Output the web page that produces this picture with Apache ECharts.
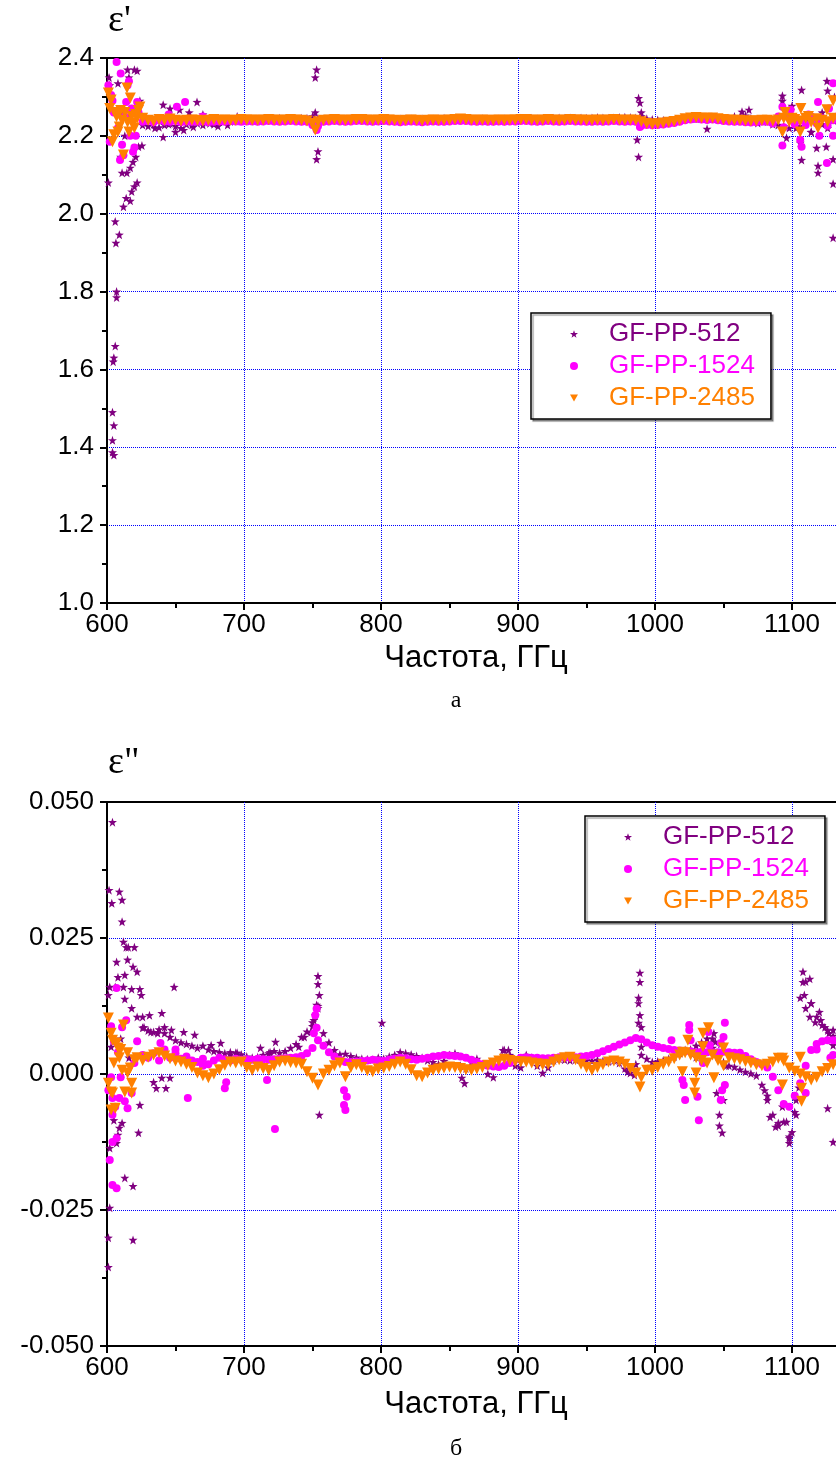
<!DOCTYPE html>
<html>
<head>
<meta charset="utf-8">
<script src="https://cdn.jsdelivr.net/npm/echarts@6/dist/echarts.min.js"></script>
<style>
  html, body { margin: 0; padding: 0; background: #fff; overflow: hidden; }
  /* график шире окна: правая часть (после ~1135 ГГц) обрезана, как в оригинале */
  #chart { width: 940px; height: 1483px; }
</style>
</head>
<body>
<div id="chart"></div>
<script>
// частоты, ГГц (основная полоса точек)
const freqBand = [
  626, 630, 634, 638, 642, 646, 650, 654, 658, 662,
  666, 670, 674, 678, 682, 686, 690, 694, 698, 702,
  706, 710, 714, 718, 722, 726, 730, 734, 738, 742,
  746, 750, 754, 758, 762, 766, 770, 774, 778, 782,
  786, 790, 794, 798, 802, 806, 810, 814, 818, 822,
  826, 830, 834, 838, 842, 846, 850, 854, 858, 862,
  866, 870, 874, 878, 882, 886, 890, 894, 898, 902,
  906, 910, 914, 918, 922, 926, 930, 934, 938, 942,
  946, 950, 954, 958, 962, 966, 970, 974, 978, 982,
  986, 990, 994, 998, 1002, 1006, 1010, 1014, 1018, 1022,
  1026, 1030, 1034, 1038, 1042, 1046, 1050, 1054, 1058, 1062,
  1066, 1070, 1074, 1078, 1082, 1086, 1090, 1094, 1098, 1102,
  1106, 1110, 1114, 1118, 1122, 1126, 1130, 1134
]

const names = ['GF-PP-512', 'GF-PP-1524', 'GF-PP-2485']
const colors = ['#800080', '#ff00ff', '#ff8000']

const xTicks = { min: 600, max: 1200, interval: 100 }
const y1Ticks = { min: 1.0, max: 2.4, interval: 0.2 }
const y2Ticks = { min: -0.05, max: 0.05, interval: 0.025 }

// ---------- ε' ----------
const eps1_512_band = [
  2.228, 2.225, 2.23, 2.222, 2.228, 2.232, 2.225, 2.22, 2.23, 2.228,
  2.232, 2.228, 2.235, 2.23, 2.236, 2.238, 2.237, 2.24, 2.238, 2.24,
  2.242, 2.243, 2.244, 2.243, 2.244, 2.245, 2.243, 2.244, 2.243, 2.245,
  2.245, 2.25, 2.244, 2.243, 2.244, 2.243, 2.244, 2.243, 2.244, 2.243,
  2.244, 2.243, 2.242, 2.243, 2.244, 2.243, 2.242, 2.243, 2.244, 2.243,
  2.242, 2.243, 2.242, 2.243, 2.244, 2.245, 2.244, 2.243, 2.244, 2.245,
  2.244, 2.243, 2.244, 2.243, 2.242, 2.243, 2.244, 2.243, 2.244, 2.245,
  2.244, 2.245, 2.244, 2.243, 2.244, 2.245, 2.246, 2.245, 2.246, 2.245,
  2.246, 2.245, 2.246, 2.247, 2.246, 2.245, 2.246, 2.247, 2.248, 2.247,
  2.246, 2.25, 2.244, 2.242, 2.241, 2.24, 2.239, 2.24, 2.241, 2.244,
  2.245, 2.244, 2.246, 2.245, 2.244, 2.243, 2.244, 2.245, 2.25, 2.248,
  2.252, 2.245, 2.242, 2.238, 2.236, 2.23, 2.228, 2.225, 2.22, 2.232,
  2.225, 2.24, 2.21, 2.238, 2.23, 2.22, 2.24, 2.23
]
const eps1_1524_band = [
  2.236, 2.238, 2.235, 2.24, 2.237, 2.236, 2.238, 2.235, 2.237, 2.236,
  2.236, 2.237, 2.235, 2.236, 2.237, 2.236, 2.238, 2.237, 2.236, 2.237,
  2.237, 2.236, 2.237, 2.238, 2.237, 2.236, 2.237, 2.238, 2.237, 2.236,
  2.236, 2.228, 2.233, 2.236, 2.237, 2.238, 2.237, 2.236, 2.237, 2.238,
  2.238, 2.237, 2.236, 2.237, 2.238, 2.237, 2.236, 2.235, 2.236, 2.237,
  2.236, 2.235, 2.236, 2.237, 2.236, 2.236, 2.237, 2.238, 2.238, 2.238,
  2.237, 2.236, 2.237, 2.236, 2.236, 2.237, 2.236, 2.237, 2.237, 2.238,
  2.238, 2.237, 2.236, 2.237, 2.238, 2.237, 2.236, 2.237, 2.238, 2.237,
  2.237, 2.236, 2.236, 2.237, 2.236, 2.237, 2.238, 2.237, 2.236, 2.237,
  2.236, 2.226, 2.228, 2.227, 2.228, 2.229, 2.231, 2.233, 2.236, 2.24,
  2.242, 2.243, 2.242, 2.241, 2.242, 2.24, 2.238, 2.237, 2.236, 2.236,
  2.235, 2.234, 2.235, 2.236, 2.236, 2.232, 2.25, 2.222, 2.245, 2.23,
  2.24, 2.228, 2.25, 2.232, 2.245, 2.226, 2.24, 2.25
]
const eps1_2485_band = [
  2.245, 2.24, 2.238, 2.242, 2.24, 2.243, 2.24, 2.238, 2.24, 2.241,
  2.24, 2.238, 2.24, 2.242, 2.24, 2.241, 2.24, 2.24, 2.242, 2.241,
  2.241, 2.24, 2.241, 2.242, 2.241, 2.24, 2.241, 2.242, 2.241, 2.24,
  2.238, 2.232, 2.236, 2.24, 2.241, 2.242, 2.241, 2.24, 2.241, 2.242,
  2.242, 2.241, 2.24, 2.241, 2.242, 2.241, 2.24, 2.239, 2.24, 2.241,
  2.24, 2.239, 2.24, 2.241, 2.24, 2.24, 2.241, 2.242, 2.243, 2.242,
  2.241, 2.24, 2.241, 2.24, 2.24, 2.241, 2.24, 2.241, 2.241, 2.242,
  2.242, 2.241, 2.24, 2.241, 2.242, 2.241, 2.24, 2.241, 2.242, 2.241,
  2.241, 2.24, 2.24, 2.241, 2.24, 2.241, 2.242, 2.241, 2.24, 2.241,
  2.24, 2.236, 2.232, 2.23, 2.231, 2.233, 2.235, 2.237, 2.24, 2.244,
  2.246, 2.247, 2.246, 2.245, 2.246, 2.244, 2.242, 2.241, 2.24, 2.24,
  2.239, 2.238, 2.239, 2.24, 2.24, 2.238, 2.241, 2.245, 2.236, 2.242,
  2.238, 2.245, 2.235, 2.244, 2.24, 2.236, 2.245, 2.24
]
// отдельные выбросы [частота, ε']
const eps1_512_pts = [
  [601, 2.08], [601.5, 2.35], [602, 2.33], [603, 2.3], [604, 2.27], [613, 2.2], [611, 2.26], [616, 2.25],
  [605, 1.38], [604, 1.387], [604, 1.418], [605, 1.456], [604, 1.49], [604.5, 1.62], [605, 1.63], [606, 1.66],
  [607, 1.785], [607, 1.8], [606.5, 1.925], [609, 1.946], [606, 1.98], [612, 2.018], [614, 2.04],
  [617, 2.033], [618, 2.057], [620, 2.07], [622, 2.08], [611, 2.105], [614.5, 2.105], [617, 2.118],
  [619, 2.133], [621, 2.146], [610, 2.146], [623, 2.172], [625.5, 2.175], [608, 2.335], [615, 2.37],
  [616, 2.35], [620, 2.37], [622, 2.367], [624, 2.29],
  [635, 2.22], [641, 2.197], [641, 2.28], [645, 2.23], [646, 2.27], [650, 2.21], [653, 2.267],
  [656, 2.215], [660, 2.26], [663, 2.223], [665.7, 2.287], [670, 2.255], [675, 2.232], [681, 2.225],
  [688, 2.228], [695, 2.25],
  [753, 2.37], [752, 2.35], [752, 2.26], [754, 2.16], [753, 2.14],
  [988, 2.297], [989, 2.285], [990, 2.26], [987, 2.19], [988, 2.146],
  [1038, 2.218], [1063.5, 2.262], [1068.6, 2.267], [1075, 2.233],
  [1093, 2.303], [1093, 2.29], [1096, 2.195], [1100, 2.277], [1103, 2.22], [1106, 2.182],
  [1107, 2.318], [1107, 2.138], [1110, 2.25], [1114, 2.21], [1118, 2.169], [1119, 2.123],
  [1119, 2.105], [1122, 2.26], [1125, 2.172], [1125.5, 2.341], [1126, 2.316], [1130, 2.14],
  [1130, 2.077], [1130, 1.938], [1131, 2.3], [1133, 2.25]
]
const eps1_1524_pts = [
  [601, 2.33], [602, 2.185], [603, 2.305], [604, 2.29], [605, 2.26], [607, 2.39], [608, 2.22],
  [609.5, 2.138], [610, 2.36], [611, 2.177], [612, 2.15], [613, 2.25], [614, 2.287], [615, 2.33],
  [616, 2.34], [617, 2.2], [618, 2.27], [619, 2.159], [620, 2.17], [621, 2.2], [622, 2.287],
  [623, 2.26], [645, 2.255], [651, 2.275], [657, 2.287], [670, 2.25],
  [753, 2.215], [754, 2.225], [989, 2.223],
  [1093, 2.175], [1093, 2.275], [1099, 2.267], [1106, 2.19], [1107, 2.172], [1112, 2.255],
  [1119, 2.287], [1120, 2.2], [1125.5, 2.13], [1127, 2.27], [1130, 2.335], [1130, 2.2], [1133, 2.25]
]
const eps1_2485_pts = [
  [601, 2.31], [602, 2.27], [603, 2.292], [604, 2.185], [605, 2.203], [606, 2.26], [607, 2.249],
  [608, 2.21], [609, 2.223], [610, 2.265], [611, 2.24], [612, 2.151], [613, 2.26], [614.6, 2.323],
  [615, 2.235], [616, 2.21], [617, 2.297], [618, 2.25], [619, 2.232], [620, 2.22], [621, 2.255],
  [622, 2.245], [623, 2.265], [624, 2.274], [752, 2.215],
  [1093, 2.21], [1095, 2.26], [1100, 2.245], [1106, 2.21], [1106.5, 2.27], [1112, 2.25],
  [1119, 2.22], [1125.5, 2.267], [1130, 2.29]
]

// ---------- ε'' ----------
const eps2_512_band = [
  0.0085, 0.008, 0.0077, 0.0082, 0.0075, 0.0068, 0.0062, 0.0058, 0.0055, 0.0052,
  0.0048, 0.0052, 0.0045, 0.0042, 0.004, 0.0038, 0.0036, 0.0039, 0.0036, 0.0032,
  0.003, 0.0031, 0.0035, 0.0038, 0.0042, 0.0039, 0.0042, 0.0048, 0.0055, 0.0068,
  0.0078, 0.0095, 0.0125, 0.0075, 0.0058, 0.0044, 0.0036, 0.0037, 0.0033, 0.003,
  0.0028, 0.0027, 0.0026, 0.003, 0.0028, 0.0032, 0.0035, 0.004, 0.0038, 0.0036,
  0.0033, 0.003, 0.0025, 0.0022, 0.0018, 0.0024, 0.0035, 0.0038, 0.0015, 0.001,
  0.0022, 0.0028, 0.0018, 0.0, -0.0006, 0.0015, 0.0044, 0.0035, 0.0015, 0.0012,
  0.0035, 0.003, 0.0015, 0.0002, 0.0012, 0.0025, 0.0028, 0.0026, 0.0025, 0.0026,
  0.0026, 0.0025, 0.0024, 0.0026, 0.0024, 0.0023, 0.0025, 0.002, 0.001, 0.0002,
  0.0018, 0.0035, 0.0028, 0.0022, 0.0023, 0.0025, 0.0028, 0.0032, 0.0038, 0.0044,
  0.0045, 0.0052, 0.0058, 0.0065, 0.0048, 0.0032, 0.0022, 0.0015, 0.0013, 0.0008,
  0.0004, 0.0001, -0.0003, -0.002, -0.004, -0.0075, -0.0095, -0.0088, -0.0115, -0.007,
  0.014, 0.017, 0.013, 0.0105, 0.009, 0.008, 0.007, 0.006
]
const eps2_1524_band = [
  0.0035, 0.003, 0.0038, 0.0025, 0.0045, 0.003, 0.0038, 0.0028, 0.0032, 0.0025,
  0.0022, 0.0028, 0.0018, 0.0025, 0.003, 0.0027, 0.0025, 0.0028, 0.0026, 0.0027,
  0.0026, 0.0028, 0.0027, 0.0026, 0.0027, 0.0028, 0.0029, 0.003, 0.0031, 0.0033,
  0.0038, 0.0048, 0.0062, 0.0052, 0.004, 0.0032, 0.0026, 0.0022, 0.0022, 0.0023,
  0.0024, 0.0025, 0.0026, 0.0025, 0.0024, 0.0026, 0.0028, 0.003, 0.0029, 0.0027,
  0.0026, 0.0028, 0.003, 0.0032, 0.0033, 0.0035, 0.0034, 0.0033, 0.0032, 0.003,
  0.0026, 0.0022, 0.0018, 0.0015, 0.0014, 0.0013, 0.0015, 0.002, 0.0026, 0.003,
  0.0031, 0.003, 0.003, 0.0029, 0.0029, 0.003, 0.0031, 0.0031, 0.003, 0.0031,
  0.0032, 0.0033, 0.0035, 0.0038, 0.0042, 0.0046, 0.005, 0.0054, 0.0058, 0.0062,
  0.0066, 0.0064, 0.0058, 0.0053, 0.005, 0.0048, 0.0046, 0.0044, 0.0043, 0.0042,
  0.0042, 0.004, 0.0041, 0.004, 0.004, 0.004, 0.0041, 0.004, 0.0039, 0.0039,
  0.0033, 0.0027, 0.0022, 0.0018, 0.0012, -0.0005, -0.003, -0.0055, -0.006, -0.004,
  -0.0017, 0.0015, 0.0044, 0.0055, 0.006, 0.0062, 0.0062, 0.006
]
const eps2_2485_band = [
  0.0025, 0.0031, 0.0035, 0.0039, 0.0033, 0.0028, 0.0024, 0.0022, 0.0018, 0.0012,
  0.0002, -0.0003, -0.0007, 0.0, 0.0008, 0.0016, 0.0022, 0.002, 0.0022, 0.0012,
  0.0007, 0.0013, 0.001, 0.0007, 0.0015, 0.0022, 0.0024, 0.0021, 0.002, 0.0018,
  0.0004, -0.0008, -0.002, 0.0, 0.0007, 0.0015, 0.002, -0.0005, 0.0012, 0.0017,
  0.0012, 0.0006, 0.0004, 0.0009, 0.0011, 0.0014, 0.0018, 0.0022, 0.0018, 0.0008,
  -0.0003, -0.0005, 0.0002, 0.0007, 0.0009, 0.0011, 0.0013, 0.0012, 0.001, 0.0008,
  0.0007, 0.0009, 0.0012, 0.0016, 0.002, 0.0024, 0.0027, 0.0025, 0.0023, 0.0022,
  0.0022, 0.002, 0.0019, 0.0017, 0.0018, 0.0022, 0.0026, 0.003, 0.0031, 0.0026,
  0.0018, 0.0012, 0.0007, 0.0012, 0.0017, 0.0022, 0.0024, 0.0022, 0.0018, 0.001,
  0.0002, -0.0006, 0.0007, 0.0007, 0.0012, 0.0018, 0.0022, 0.0028, 0.0035, 0.0039,
  0.0035, 0.003, 0.0025, 0.002, 0.0035, 0.0025, 0.0015, 0.003, 0.0028, 0.0026,
  0.0023, 0.002, 0.0017, 0.0015, 0.0018, 0.0022, 0.0029, 0.0024, 0.0011, 0.0005,
  0.0, -0.0005, -0.0011, -0.0006, 0.0004, 0.001, 0.0017, 0.0015
]
const eps2_512_pts = [
  [604, 0.0463], [601.5, 0.0338], [603.5, 0.0314], [609, 0.0335], [611, 0.032], [611, 0.028],
  [612, 0.0243], [614, 0.0233], [615.5, 0.0233], [620, 0.0233], [607, 0.0206], [615, 0.021],
  [619, 0.0197], [622, 0.0188], [608, 0.0178], [613, 0.0182], [602, 0.016], [606, 0.016],
  [612, 0.016], [618, 0.0156], [624, 0.0156], [625, 0.0145], [601, 0.0145], [613, 0.0138],
  [618, 0.0121], [622, 0.0105], [626, 0.0105], [631, 0.0108], [640, 0.0112], [649, 0.016],
  [627, 0.0086], [632, 0.0077], [637, 0.0075], [642, 0.0086], [647, 0.0081], [656, 0.0077],
  [664, 0.0072], [676, 0.0053], [683, 0.0057], [690, 0.004], [695, 0.0039], [712, 0.0048],
  [719, 0.004], [723, 0.0059], [603, 0.005], [610, 0.0065], [616, 0.003],
  [634, -0.0015], [643, -0.0026], [646, -0.0007], [640, -0.0007], [636, -0.0026], [624, -0.0057],
  [623, -0.0108], [605, -0.0085], [609, -0.0099], [611, -0.009], [608, -0.0112], [607, -0.0127],
  [602, -0.0136], [613, -0.0191], [619, -0.0206], [602, -0.0246], [601, -0.0301], [619, -0.0305],
  [601, -0.0355],
  [740, 0.005], [744, 0.0068], [749, 0.0077], [750, 0.0088], [751, 0.0099], [752, 0.0108],
  [754, 0.0121], [753, 0.0127], [755, 0.0145], [754, 0.0165], [754, 0.018], [755, -0.0075],
  [800.7, 0.0094], [859, -0.0007], [861, -0.0017], [889, 0.0044], [893, 0.0044],
  [980, 0.0004], [985, -0.0002], [988, 0.0094], [988, 0.013], [988, 0.014], [989, 0.0108],
  [989, 0.0169], [989, 0.0186], [990, 0.0086], [990, 0.005],
  [1030, 0.0031], [1035, 0.005], [1042, 0.0065], [1043, 0.0075], [1044, 0.0059], [1048, 0.0055],
  [1052, 0.0015], [1045, -0.0035], [1050, -0.0048], [1047, -0.0075], [1047, -0.0095], [1049, -0.0108],
  [1080, -0.003], [1082, -0.0048], [1084, -0.0079], [1088, -0.0097], [1090, -0.009], [1093, -0.006],
  [1096, -0.0088], [1098, -0.0118], [1098, -0.0127], [1100, -0.0107], [1103, -0.0075], [1103, -0.0048],
  [1105, -0.0025], [1108, 0.0188], [1108, 0.0169], [1109, 0.0145], [1110, 0.0121], [1113, 0.0175],
  [1113, 0.0105], [1114, 0.013], [1117, 0.0095], [1120, 0.0114], [1121, 0.0099], [1124, 0.0086],
  [1127, 0.0075], [1130, 0.0081], [1130, 0.0053], [1133, 0.0065], [1126, -0.0063], [1130, -0.0125]
]
const eps2_1524_pts = [
  [601, -0.003], [602, -0.0158], [603, 0.0088], [603, -0.0006], [604, -0.0044], [604, -0.0075],
  [604, -0.0125], [604, -0.0204], [605, 0.006], [606, -0.006], [607, 0.0158], [607, -0.0118],
  [607, -0.021], [608, 0.004], [609, -0.0044], [610, -0.0006], [611, 0.0086], [613, -0.005],
  [614, 0.0099], [615, -0.0063], [618, -0.0035], [620, 0.002], [622, 0.006], [639, 0.0057],
  [650, 0.0045], [659, -0.0044], [670, 0.0015], [686, -0.0026], [687, -0.0015],
  [716.8, -0.0011], [722.6, -0.0101],
  [751, 0.0075], [752, 0.0108], [753, 0.0085], [753, 0.012],
  [773, -0.003], [775, -0.0042], [773, -0.0057], [774, -0.0066],
  [1012, 0.0062], [1020, -0.0011], [1021, -0.002], [1022, -0.0048], [1025, 0.009], [1025, 0.0081],
  [1026, 0.0062], [1031, -0.0042], [1032, -0.0085], [1035, 0.002], [1039, 0.0077], [1040, 0.0053],
  [1048, 0.0057], [1048, -0.0048], [1049, -0.003], [1050, 0.0068], [1051, 0.0094], [1051, -0.002],
  [1110, -0.0035], [1118, 0.0045], [1128, 0.003], [1130, 0.0035]
]
const eps2_2485_pts = [
  [601, 0.0103], [601, -0.0017], [603, 0.0075], [603, -0.0033], [603, -0.0066], [604, 0.0062],
  [604, -0.0035], [605, 0.002], [606, -0.0063], [607, 0.0057], [608, 0.0048], [609, 0.003],
  [610, 0.0045], [611, 0.0007], [612, 0.009], [613, -0.0033], [615, 0.0002], [615, 0.0039],
  [617, 0.0011], [618, -0.0035], [618, -0.0017], [620, 0.0026], [622, 0.003],
  [989, -0.0024],
  [1020, 0.004], [1020, 0.0004], [1024, 0.0062], [1029, -0.0017], [1029, -0.0035], [1030, 0.0002],
  [1035, 0.0075], [1035, 0.005], [1039, 0.0085], [1043, -0.0007], [1050, 0.0048],
  [1093, 0.0029], [1093, -0.002], [1106, 0.0031], [1107, -0.0026], [1107, -0.005]
]

const FONT = '"Liberation Sans", Arial, sans-serif'
const SERIF = '"Liberation Serif", "Times New Roman", serif'
const starPath = 'path://M0,-10 L2.35,-3.24 L9.51,-3.09 L3.8,1.24 L5.88,8.09 L0,4 L-5.88,8.09 L-3.8,1.24 L-9.51,-3.09 L-2.35,-3.24 Z'
const triPath = 'path://M0,0 L10,0 L5,9 Z'

function joinData(vals, pts) {
  return freqBand.map((f, i) => [f, vals[i]]).concat(pts)
}

function makeSeries(idx) {
  const seriesCfg = [
    { symbol: starPath, symbolSize: 9, rotate: 0 },
    { symbol: 'circle', symbolSize: 8, rotate: 0 },
    { symbol: 'triangle', symbolSize: 11, rotate: 180 }
  ]
  const data = idx === 0
    ? [joinData(eps1_512_band, eps1_512_pts), joinData(eps1_1524_band, eps1_1524_pts), joinData(eps1_2485_band, eps1_2485_pts)]
    : [joinData(eps2_512_band, eps2_512_pts), joinData(eps2_1524_band, eps2_1524_pts), joinData(eps2_2485_band, eps2_2485_pts)]
  return names.map((n, k) => ({
    name: n,
    type: 'scatter',
    xAxisIndex: idx,
    yAxisIndex: idx,
    symbol: seriesCfg[k].symbol,
    symbolSize: seriesCfg[k].symbolSize,
    symbolRotate: seriesCfg[k].rotate,
    itemStyle: { color: colors[k], opacity: 1 },
    data: data[k]
  }))
}

function xAxis(gridIndex) {
  return {
    type: 'value',
    gridIndex: gridIndex,
    min: xTicks.min, max: xTicks.max, interval: xTicks.interval,
    axisLine: { onZero: false, lineStyle: { color: '#000', width: 2 } },
    axisTick: { inside: false, length: 7, lineStyle: { color: '#000', width: 2 } },
    minorTick: { show: true, splitNumber: 2, length: 5, lineStyle: { color: '#000', width: 2 } },
    axisLabel: { color: '#000', fontFamily: FONT, fontSize: 26, margin: 9, formatter: v => String(v) },
    splitLine: { show: true, showMinLine: false, showMaxLine: false, lineStyle: { color: '#0000ff', width: 1, type: [1, 1] } }
  }
}

function yAxis(gridIndex, t, digits) {
  return {
    type: 'value',
    gridIndex: gridIndex,
    min: t.min, max: t.max, interval: t.interval,
    axisLine: { onZero: false, lineStyle: { color: '#000', width: 2 } },
    axisTick: { inside: false, length: 7, lineStyle: { color: '#000', width: 2 } },
    minorTick: { show: true, splitNumber: 2, length: 5, lineStyle: { color: '#000', width: 2 } },
    axisLabel: { color: '#000', fontFamily: FONT, fontSize: 26, margin: 13, formatter: v => v.toFixed(digits) },
    splitLine: { show: true, showMinLine: false, showMaxLine: false, lineStyle: { color: '#0000ff', width: 1, type: [1, 1] } }
  }
}

function legend(left, top) {
  return {
    orient: 'vertical',
    left: left, top: top,
    itemWidth: 8, itemHeight: 8, itemGap: 0,
    padding: [5, 16, 5, 39],
    backgroundColor: '#fff',
    borderColor: '#000', borderWidth: 1.5,
    shadowColor: 'rgba(0,0,0,0.35)', shadowOffsetX: 2, shadowOffsetY: 2, shadowBlur: 1,
    selectedMode: false,
    textStyle: { fontFamily: FONT, fontSize: 26, lineHeight: 32, padding: [0, 0, 0, 26] },
    data: [
      { name: names[0], icon: starPath, textStyle: { color: colors[0] } },
      { name: names[1], icon: 'circle', textStyle: { color: colors[1] } },
      { name: names[2], icon: triPath, textStyle: { color: colors[2] } }
    ]
  }
}

const chart = echarts.init(document.getElementById('chart'))
chart.setOption({
  animation: false,
  backgroundColor: '#fff',
  grid: [
    { left: 107, top: 58, width: 822, height: 545, outerBoundsMode: 'none', show: true, borderColor: '#000', borderWidth: 2, backgroundColor: 'transparent' },
    { left: 107, top: 802, width: 822, height: 544, outerBoundsMode: 'none', show: true, borderColor: '#000', borderWidth: 2, backgroundColor: 'transparent' }
  ],
  xAxis: [xAxis(0), xAxis(1)],
  yAxis: [yAxis(0, y1Ticks, 1), yAxis(1, y2Ticks, 3)],
  legend: [legend(531, 313), legend(585, 816)],
  graphic: [
    { type: 'text', left: 108, top: 2, style: { text: "ε'", font: '38px ' + SERIF, fill: '#000' } },
    { type: 'text', left: 108, top: 744, style: { text: 'ε"', font: '38px ' + SERIF, fill: '#000' } },
    { type: 'text', x: 476, y: 658, style: { text: 'Частота, ГГц', font: '31px ' + FONT, fill: '#000', align: 'center', verticalAlign: 'middle' } },
    { type: 'text', x: 456, y: 701, style: { text: 'а', font: '24px ' + SERIF, fill: '#000', align: 'center', verticalAlign: 'middle' } },
    { type: 'text', x: 476, y: 1404, style: { text: 'Частота, ГГц', font: '31px ' + FONT, fill: '#000', align: 'center', verticalAlign: 'middle' } },
    { type: 'text', x: 456, y: 1449, style: { text: 'б', font: '24px ' + SERIF, fill: '#000', align: 'center', verticalAlign: 'middle' } }
  ],
  series: makeSeries(0).concat(makeSeries(1))
})
</script>
</body>
</html>
